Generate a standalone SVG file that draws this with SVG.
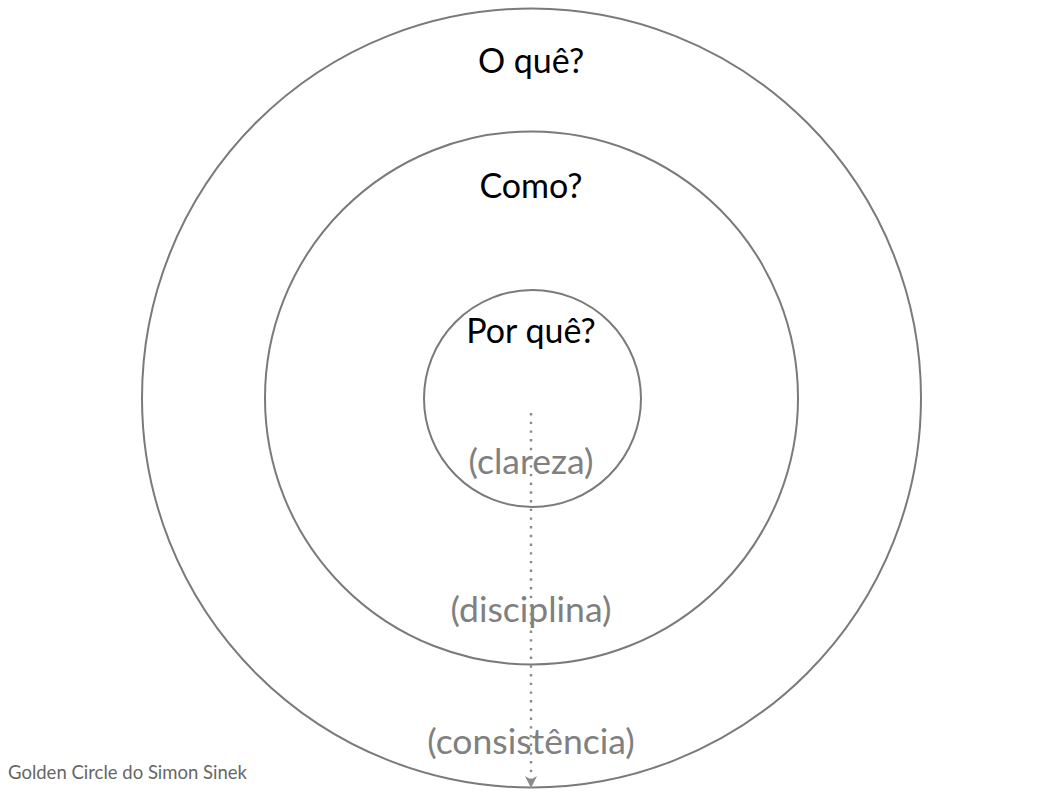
<svg xmlns="http://www.w3.org/2000/svg" width="1060" height="794" viewBox="0 0 1060 794">
<style>
.ring{fill:none;stroke:#7a7a7a;stroke-width:2}
.t{font-family:Lato,"Open Sans","Liberation Sans",sans-serif;text-anchor:middle;font-size:34px;fill:#000}
.g{font-family:Lato,"Open Sans","Liberation Sans",sans-serif;text-anchor:middle;font-size:35.5px;fill:#808080}
.cap{font-family:Lato,"Open Sans","Liberation Sans",sans-serif;font-size:18.5px;fill:#666}
</style>
<defs>
<marker id="arr" viewBox="0 0 10 10" refX="10" refY="5" markerWidth="12" markerHeight="12" markerUnits="userSpaceOnUse" orient="auto">
<path d="M0,0 L10,5 L0,10 L3,5 Z" fill="#8a8a8a"/>
</marker>
</defs>
<rect width="1060" height="794" fill="#fff"/>
<g id="outer"><circle class="ring" cx="531.5" cy="398" r="389.5"/><text class="t" x="531" y="73">O quê?</text></g>
<g id="middle"><circle class="ring" cx="531.5" cy="398" r="266.5"/><text class="t" x="531" y="198">Como?</text></g>
<g id="inner"><circle class="ring" cx="532.5" cy="398.5" r="108.5"/><text class="t" x="531" y="343">Por quê?</text></g>
<g id="labels">
<text class="g" x="531" y="474">(clareza)</text>
<text class="g" x="531" y="622">(disciplina)</text>
<text class="g" x="531" y="754">(consistência)</text>
</g>
<g id="connectors">
<line x1="531" y1="413" x2="531" y2="788" stroke="#8a8a8a" stroke-width="2.4" stroke-dasharray="2.4 6.3" marker-end="url(#arr)"/>
</g>
<text class="cap" x="8" y="779">Golden Circle do Simon Sinek</text>
</svg>
